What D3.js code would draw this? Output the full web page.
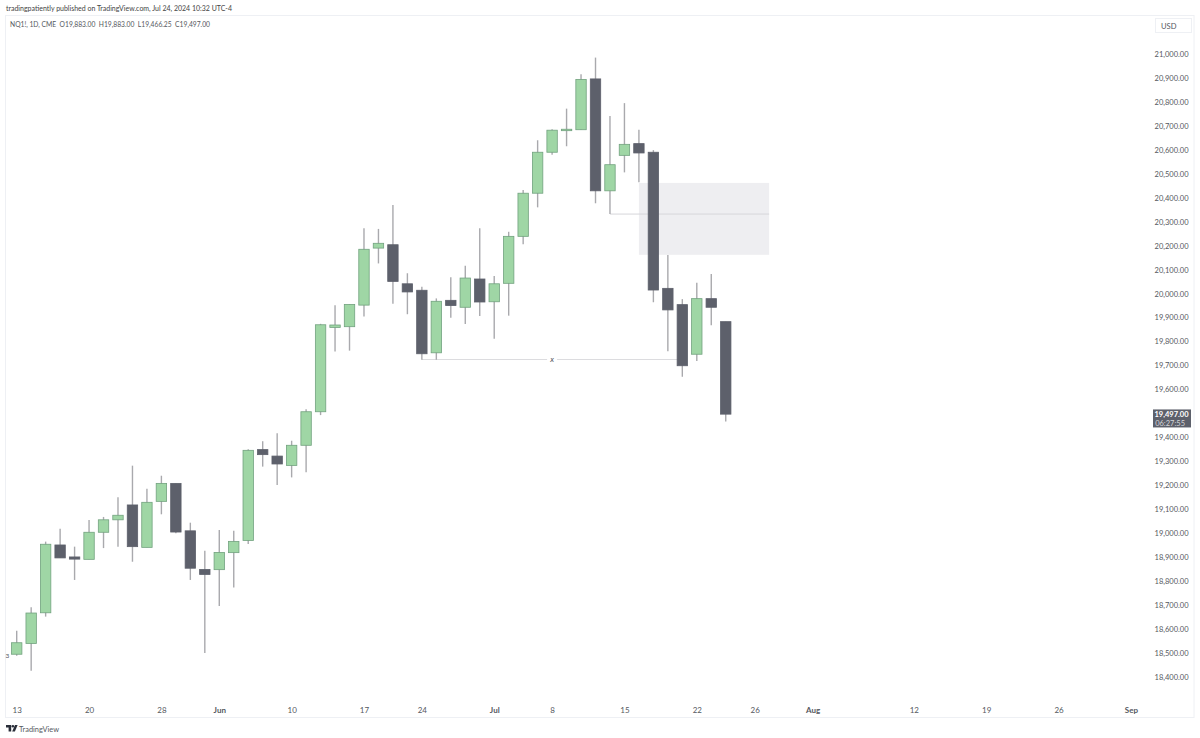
<!DOCTYPE html>
<html>
<head>
<meta charset="utf-8">
<script src="https://cdn.jsdelivr.net/npm/d3@7"></script>
<style>
  html, body { margin: 0; padding: 0; background: #fff; }
  svg { display: block; }
  text { font-family: Lato, sans-serif; fill: #555860; }
</style>
</head>
<body>
<svg width="1200" height="738"></svg>
<script>
const svg = d3.select("svg");

// DATA (daily bars, first one is May 13)
const opens = [18495,18540,18668,18951,18901,18891,19004,19056,19118,18941,19133,19208,19010,18849,18848,18919,18970,19349,19322,19283,
  19367,19507,19859,19862,19952,20190,20204,20041,20014,19753,19972,19943,20061,19966,20043,20239,20419,20590,20680,20684,
  20896,20429,20577,20626,20590,20022,19954,19747,19979,19883];
const highs = [18593,18691,18965,19019,18944,19055,19068,19150,19282,19186,19240,19208,19044,18927,19013,19010,19350,19384,19417,19386,
  19517,19874,19951,19955,20273,20270,20370,20085,20029,19980,20068,20116,20273,20073,20258,20432,20640,20686,20772,20915,
  20985,20741,20795,20684,20599,20161,19977,20045,20082,19883];
const lows = [18489,18426,18652,18897,18805,18891,18938,18944,18881,18941,19079,19000,18805,18500,18696,18773,18955,19278,19201,19233,
  19254,19493,19758,19762,19904,20126,19958,19914,19724,19724,19899,19873,19907,19812,19908,20206,20360,20580,20615,20684,
  20377,20332,20506,20465,19964,19759,19653,19719,19868,19466.25];
const closes = [18543,18667,18954,18897,18892,19004,19056,19075,18944,19129,19208,19005,18854,18828,18920,18966,19346,19328,19289,19367,
  19507,19870,19869,19955,20185,20210,20051,20007,19749,19968,19950,20065,19965,20041,20239,20419,20590,20682,20686,20894,
  20429,20538,20623,20587,20015,19932,19699,19979,19943,19497];

const priceTicks = d3.range(18400, 21001, 100);
const dateTickBars = [0, 5, 10, 14, 19, 24, 28, 33, 37, 42, 47, 51, 55, 62, 67, 72, 77];
const dateTickLabels = ["13", "20", "28", "Jun", "10", "17", "24", "Jul", "8", "15", "22", "26", "Aug", "12", "19", "26", "Sep"];
const monthLabels = ["Jun", "Jul", "Aug", "Sep"];

// drawings on the chart
const zoneBars = [43, 52];
const zonePrices = [20462, 20162];
const midLineBars = [41, 52];
const midLinePrice = 20332;
const lowLineBars = [28, 46];
const lowLinePrice = 19725;
const lowMarkBar = 37;

const lastPrice = 19497;

// SCALE
const xScale = d3.scaleLinear().domain([0, 77]).range([16.7, 1130.9]);
const yScale = d3.scaleLinear().domain([18400, 21000]).range([677, 54]);

const bodyWidth = 10.4;
const upFill = "#9fd6a5", upStroke = "#72a27f";
const downFill = "#5d606b";
const wickColor = "#a9a9ad";

// FRAME
svg.append("rect")
    .attr("x", 5.5)
    .attr("y", 15.5)
    .attr("width", 1188.5)
    .attr("height", 702)
    .attr("fill", "none")
    .attr("stroke", "#eef0f4");

// HEADER
svg.append("text")
    .attr("x", 6)
    .attr("y", 11)
    .attr("font-size", "7.6px")
    .attr("textLength", 226)
    .attr("lengthAdjust", "spacingAndGlyphs")
    .style("fill", "#444")
    .text("tradingpatiently published on TradingView.com, Jul 24, 2024 10:32 UTC-4");

svg.append("text")
    .attr("x", 10)
    .attr("y", 26.5)
    .attr("font-size", "7.6px")
    .attr("textLength", 200)
    .attr("lengthAdjust", "spacingAndGlyphs")
    .style("white-space", "pre")
    .text("NQ1!, 1D, CME  O19,883.00  H19,883.00  L19,466.25  C19,497.00");

svg.append("text")
    .attr("x", 5.5)
    .attr("y", 657.5)
    .attr("font-size", "6.5px")
    .text("3");

// ZONE + LINES (behind the candles)
svg.append("rect")
    .attr("x", xScale(zoneBars[0]))
    .attr("y", yScale(zonePrices[0]))
    .attr("width", xScale(zoneBars[1]) - xScale(zoneBars[0]))
    .attr("height", yScale(zonePrices[1]) - yScale(zonePrices[0]))
    .attr("fill", "#eeeef1");

svg.append("line")
    .attr("x1", xScale(midLineBars[0]))
    .attr("x2", xScale(midLineBars[1]))
    .attr("y1", yScale(midLinePrice))
    .attr("y2", yScale(midLinePrice))
    .attr("stroke", "#d6d6da");

svg.append("line")
    .attr("x1", xScale(lowLineBars[0]))
    .attr("x2", xScale(lowLineBars[1]))
    .attr("y1", yScale(lowLinePrice))
    .attr("y2", yScale(lowLinePrice))
    .attr("stroke", "#dcdcdf");

// label sits on the line with a white gap
svg.append("rect")
    .attr("x", xScale(lowMarkBar) - 5)
    .attr("y", yScale(lowLinePrice) - 4)
    .attr("width", 10)
    .attr("height", 8)
    .attr("fill", "#fff");

svg.append("text")
    .attr("x", xScale(lowMarkBar))
    .attr("y", yScale(lowLinePrice) + 2.5)
    .attr("text-anchor", "middle")
    .attr("font-size", "8px")
    .attr("font-style", "italic")
    .text("x");

// CANDLES
const candles = svg.append("g")
    .selectAll("g")
    .data(d3.range(opens.length))
    .join("g");

candles.append("line")
    .attr("x1", i => xScale(i))
    .attr("x2", i => xScale(i))
    .attr("y1", i => yScale(highs[i]))
    .attr("y2", i => yScale(lows[i]))
    .attr("stroke", wickColor)
    .attr("stroke-width", 1.4);

candles.append("rect")
    .attr("x", i => xScale(i) - bodyWidth / 2)
    .attr("y", i => yScale(Math.max(opens[i], closes[i])))
    .attr("width", bodyWidth)
    .attr("height", i => Math.abs(yScale(opens[i]) - yScale(closes[i])))
    .attr("fill", i => closes[i] >= opens[i] ? upFill : downFill)
    .attr("stroke", i => closes[i] >= opens[i] ? upStroke : downFill)
    .attr("stroke-width", 0.8);

// AXIS
const priceAxis = svg.append("g")
    .attr("transform", "translate(1188.5,0)")
    .call(d3.axisLeft(yScale)
        .tickValues(priceTicks)
        .tickSize(0)
        .tickPadding(0)
        .tickFormat(d3.format(",.2f")));

const dateAxis = svg.append("g")
    .attr("transform", "translate(0,705)")
    .call(d3.axisBottom(xScale)
        .tickValues(dateTickBars)
        .tickSize(0)
        .tickPadding(0)
        .tickFormat((d, i) => dateTickLabels[i]));

priceAxis.select(".domain").remove();
dateAxis.select(".domain").remove();

priceAxis.selectAll("text")
    .style("font-size", "7.5px");

dateAxis.selectAll("text")
    .attr("dy", "0.95em")
    .style("font-size", "8px")
    .style("font-weight", t => monthLabels.includes(dateTickLabels[dateTickBars.indexOf(t)]) ? 700 : 400);

// USD BOX
svg.append("rect")
    .attr("x", 1155.5)
    .attr("y", 18.5)
    .attr("width", 36)
    .attr("height", 14)
    .attr("fill", "#fff")
    .attr("stroke", "#eef0f4");

svg.append("text")
    .attr("x", 1161)
    .attr("y", 28.5)
    .attr("font-size", "7.6px")
    .text("USD");

// LAST PRICE TAG
svg.append("rect")
    .attr("x", 1153)
    .attr("y", yScale(lastPrice) - 4.7)
    .attr("width", 38)
    .attr("height", 18)
    .attr("fill", downFill);

svg.append("text")
    .attr("x", 1188.5)
    .attr("y", yScale(lastPrice) + 2.4)
    .attr("text-anchor", "end")
    .attr("font-size", "7.5px")
    .attr("font-weight", 700)
    .style("fill", "#fff")
    .text(d3.format(",.2f")(lastPrice));

svg.append("text")
    .attr("x", 1185)
    .attr("y", yScale(lastPrice) + 11.4)
    .attr("text-anchor", "end")
    .attr("font-size", "7.5px")
    .style("fill", "#d5d6da")
    .text("06:27:55");

// LOGO
const logo = svg.append("g").attr("transform", "translate(6,725)").attr("fill", "#2a2e39");
logo.append("path").attr("d", "M0 0H5.2V6.6H2.6V2.6H0Z");
logo.append("circle").attr("cx", 6.9).attr("cy", 1.3).attr("r", 1.3);
logo.append("path").attr("d", "M9 0H11.6L8.9 6.6H6.2Z");

svg.append("text")
    .attr("x", 19)
    .attr("y", 731.5)
    .attr("font-size", "8px")
    .attr("textLength", 40)
    .attr("lengthAdjust", "spacingAndGlyphs")
    .text("TradingView");
</script>
</body>
</html>
